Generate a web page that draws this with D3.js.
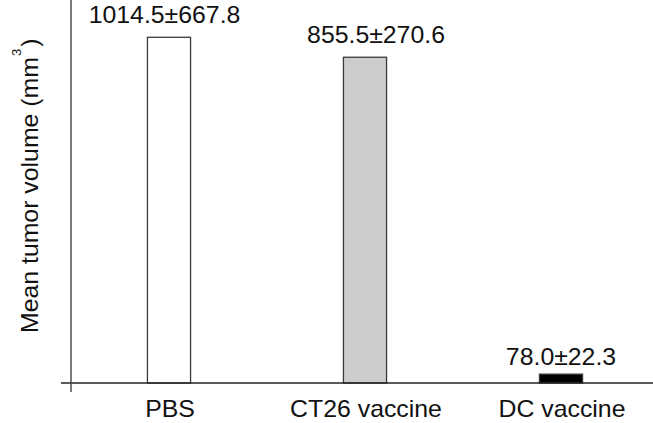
<!DOCTYPE html>
<html>
<head>
<meta charset="utf-8">
<script src="https://cdn.jsdelivr.net/npm/d3@7"></script>
<style>
  html, body { margin: 0; padding: 0; background: #fff; }
  svg { display: block; }
  text { font-family: "Liberation Sans", Arial, Helvetica, sans-serif; fill: #111; }
</style>
</head>
<body>
<svg id="chart" width="653" height="423"></svg>
<script>
// ---- data ----
const categories = ["PBS", "CT26 vaccine", "DC vaccine"];
// bar heights as drawn in the picture (same units as the means)
const barHeights = [1014.5, 956, 26];
const means = [1014.5, 855.5, 78.0];
const sds = [667.8, 270.6, 22.3];
const fills = ["#ffffff", "#cccccc", "#000000"];
const yLabel = "Mean tumor volume (mm";
const ySup = "3";
const yLabelEnd = ")";

// ---- layout ----
const W = 653, H = 423;
const x0 = 71, baseY = 383;
const svg = d3.select("#chart");

const x = d3.scaleBand()
  .domain(categories)
  .range([x0, 659])
  .paddingInner(0.78)
  .paddingOuter(0.39);

const y = d3.scaleLinear()
  .domain([0, 1014.5])
  .range([baseY, 37.3]);

const FS = 23, SX = 1.08;
// small placement nudges of the value labels as in the original figure
const labelDx = [-4.5, 11, 0];
const labelDy = [0, 0, 5];

// bars
svg.selectAll("rect.bar")
  .data(categories)
  .join("rect")
  .attr("class", "bar")
  .attr("x", d => x(d))
  .attr("width", x.bandwidth())
  .attr("y", (d, i) => y(barHeights[i]))
  .attr("height", (d, i) => baseY - y(barHeights[i]))
  .attr("fill", (d, i) => fills[i])
  .attr("stroke", "#3a3a3a")
  .attr("stroke-width", 1.3);

// axes lines
svg.append("line")
  .attr("x1", 61).attr("x2", W)
  .attr("y1", baseY).attr("y2", baseY)
  .attr("stroke", "#222").attr("stroke-width", 1.4);
svg.append("line")
  .attr("x1", x0).attr("x2", x0)
  .attr("y1", 0).attr("y2", 392)
  .attr("stroke", "#444").attr("stroke-width", 1.4);

// value labels
svg.selectAll("text.val")
  .data(categories)
  .join("text")
  .attr("class", "val")
  .attr("text-anchor", "middle")
  .attr("font-size", FS)
  .attr("transform", (d, i) =>
    `translate(${x(d) + x.bandwidth() / 2 + labelDx[i]},${y(barHeights[i]) - 14 + labelDy[i]}) scale(${SX},1)`)
  .text((d, i) => `${means[i].toFixed(1)}±${sds[i].toFixed(1)}`);

// category labels
svg.selectAll("text.cat")
  .data(categories)
  .join("text")
  .attr("class", "cat")
  .attr("text-anchor", "middle")
  .attr("font-size", FS)
  .attr("transform", d => `translate(${x(d) + x.bandwidth() / 2 + 1},417) scale(${SX},1)`)
  .text(d => d);

// y label
const yl = svg.append("text")
  .attr("font-size", FS)
  .attr("transform", `translate(38,333) rotate(-90) scale(${SX},1)`);
yl.append("tspan").text(yLabel);
yl.append("tspan").attr("font-size", 12).attr("dy", -17).attr("dx", 1).text(ySup);
yl.append("tspan").attr("dy", 17).attr("dx", 2).text(yLabelEnd);
</script>
</body>
</html>
